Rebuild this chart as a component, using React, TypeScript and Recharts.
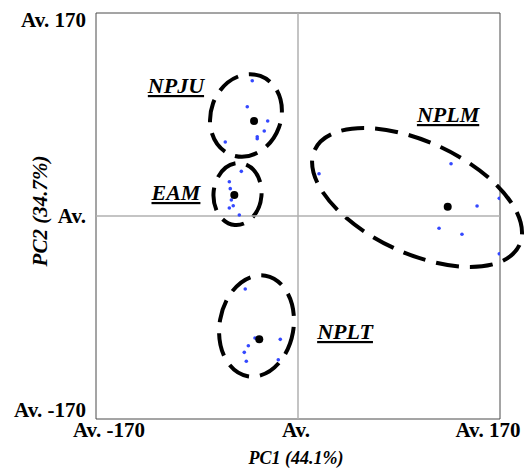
import { ScatterChart, Scatter, XAxis, YAxis, ReferenceLine, ReferenceArea } from "recharts";

const SERIF = '"Liberation Serif", "Times New Roman", serif';

const AXIS_TICKS = [-170, 0, 170];

// sample scores (PC1, PC2)
const npjuPoints = [
  { x: -38.5, y: 113.3 },
  { x: -42.7, y: 91.5 },
  { x: -25.5, y: 79.6 },
  { x: -28.4, y: 71.2 },
  { x: -34.3, y: 66.4 },
  { x: -34.3, y: 64.7 },
  { x: -61.2, y: 62.0 },
];
const eamPoints = [
  { x: -47.7, y: 37.4 },
  { x: -57.8, y: 28.7 },
  { x: -57.0, y: 22.9 },
  { x: -56.1, y: 13.4 },
  { x: -54.5, y: 8.6 },
  { x: -57.8, y: 6.7 },
  { x: -49.4, y: 0.8 },
];
const nplmPoints = [
  { x: 17.7, y: 35.4 },
  { x: 128.8, y: 43.8 },
  { x: 150.7, y: 8.4 },
  { x: 169.4, y: 14.8 },
  { x: 118.7, y: -10.3 },
  { x: 138.0, y: -15.3 },
  { x: 169.4, y: -31.6 },
];
const npltPoints = [
  { x: -44.4, y: -61.1 },
  { x: -36.2, y: -102.2 },
  { x: -14.9, y: -103.3 },
  { x: -41.8, y: -108.6 },
  { x: -45.2, y: -114.2 },
  { x: -43.5, y: -121.7 },
  { x: -16.6, y: -120.4 },
];

const centroids = [
  { x: -37.0, y: 79.6 },
  { x: -53.6, y: 17.6 },
  { x: 126.0, y: 7.8 },
  { x: -32.6, y: -103.3 },
];

// confidence ellipses: centre, semi-axes (data units) and tilt in degrees
const ellipses = [
  { name: "NPJU", cx: -43.8, cy: 84.2, a: 29.5, b: 35.2, tilt: 20 },
  { name: "EAM", cx: -50.9, cy: 18.4, a: 20.2, b: 26.0, tilt: 5 },
  { name: "NPLM", cx: 100.2, cy: 15.5, a: 95.0, b: 46.6, tilt: 25 },
  { name: "NPLT", cx: -34.9, cy: -92.1, a: 31.1, b: 42.7, tilt: 10 },
];

const groupLabels = [
  { name: "NPJU", x: -102.7, y: 103.0 },
  { name: "EAM", x: -102.7, y: 13.4 },
  { name: "NPLM", x: 126.3, y: 78.7 },
  { name: "NPLT", x: 39.6, y: -103.0 },
];

const tickText = (v: number) => (v === 0 ? "Av." : `Av. ${v}`);

const XTick = ({ x, y, payload }: any) => {
  const v = payload.value;
  const shift = v < 0 ? 13 : v > 0 ? -12 : -2;
  return (
    <text x={x + shift} y={y + 18} textAnchor="middle" fontFamily={SERIF} fontWeight="bold" fontSize={21} fill="#000">
      {tickText(v)}
    </text>
  );
};

const YTick = ({ x, y, payload }: any) => {
  const v = payload.value;
  const dy = v > 0 ? 14 : v < 0 ? -2 : 7;
  return (
    <text x={x - 10} y={y + dy} textAnchor="end" fontFamily={SERIF} fontWeight="bold" fontSize={21} fill="#000">
      {tickText(v)}
    </text>
  );
};

const BlueDot = ({ cx, cy }: any) => <circle cx={cx} cy={cy} r={1.8} fill="#3448ff" />;
const BlackDot = ({ cx, cy }: any) => <circle cx={cx} cy={cy} r={4} fill="#000" />;

const GroupLabel = ({ cx, cy, payload }: any) => (
  <text
    x={cx}
    y={cy}
    textAnchor="middle"
    fontFamily={SERIF}
    fontWeight="bold"
    fontStyle="italic"
    fontSize={22}
    fill="#000"
    textDecoration="underline"
  >
    {payload.name}
  </text>
);

const ellipseShape = (tilt: number) => (p: any) => {
  const cx = p.x + p.width / 2;
  const cy = p.y + p.height / 2;
  return (
    <ellipse
      cx={cx}
      cy={cy}
      rx={Math.abs(p.width) / 2}
      ry={Math.abs(p.height) / 2}
      transform={`rotate(${tilt} ${cx} ${cy})`}
      fill="none"
      stroke="#000"
      strokeWidth={4}
      strokeDasharray="23 11"
    />
  );
};

export default function App() {
  return (
    <div style={{ position: "absolute", left: 0, top: 0, width: 528, height: 470, background: "#fff" }}>
      <ScatterChart width={528} height={470} margin={{ top: 13, right: 28, bottom: 0, left: 0 }}>
        <XAxis
          type="number"
          dataKey="x"
          domain={[-170, 170]}
          ticks={AXIS_TICKS}
          allowDataOverflow
          axisLine={false}
          tickLine={false}
          tickSize={0}
          tickMargin={0}
          height={51}
          tick={<XTick />}
          label={{
            content: () => (
              <text x={296} y={464} textAnchor="middle" fontFamily={SERIF} fontWeight="bold" fontStyle="italic" fontSize={18}>
                PC1 (44.1%)
              </text>
            ),
          }}
        />
        <YAxis
          type="number"
          dataKey="y"
          domain={[-170, 170]}
          ticks={AXIS_TICKS}
          allowDataOverflow
          axisLine={false}
          tickLine={false}
          tickSize={0}
          tickMargin={0}
          width={96}
          tick={<YTick />}
          label={{
            content: () => (
              <text
                x={47}
                y={211}
                textAnchor="middle"
                transform="rotate(-90 47 211)"
                fontFamily={SERIF}
                fontWeight="bold"
                fontStyle="italic"
                fontSize={21}
              >
                PC2 (34.7%)
              </text>
            ),
          }}
        />
        <ReferenceArea x1={-170} x2={170} y1={-170} y2={170} fill="none" stroke="#4a4a4a" strokeWidth={1} />
        <ReferenceLine x={0} stroke="#b0b0b0" strokeWidth={1.5} />
        <ReferenceLine y={0} stroke="#b0b0b0" strokeWidth={1.5} />
        {ellipses.map((e) => (
          <ReferenceArea
            key={e.name}
            x1={e.cx - e.a}
            x2={e.cx + e.a}
            y1={e.cy - e.b}
            y2={e.cy + e.b}
            ifOverflow="visible"
            shape={ellipseShape(e.tilt)}
          />
        ))}
        <Scatter data={npjuPoints} shape={<BlueDot />} isAnimationActive={false} />
        <Scatter data={eamPoints} shape={<BlueDot />} isAnimationActive={false} />
        <Scatter data={nplmPoints} shape={<BlueDot />} isAnimationActive={false} />
        <Scatter data={npltPoints} shape={<BlueDot />} isAnimationActive={false} />
        <Scatter data={centroids} shape={<BlackDot />} isAnimationActive={false} />
        <Scatter data={groupLabels} shape={<GroupLabel />} isAnimationActive={false} />
      </ScatterChart>
    </div>
  );
}
